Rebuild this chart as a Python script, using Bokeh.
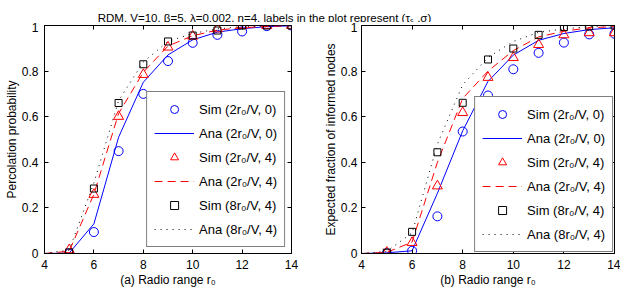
from bokeh.plotting import figure
from bokeh.models import (LinearAxis, Legend, LegendItem, Label, FixedTicker, Range1d,
                          CustomLabelingPolicy)
from bokeh.layouts import column, row
from bokeh.embed import file_html
from bokeh.resources import INLINE

# ---------------- data ----------------
ana_r0 = [4, 5, 6, 7, 8, 9, 10, 11, 12, 13, 14]
sim_r0 = [5, 6, 7, 8, 9, 10, 11, 12, 13, 14]

x_ticks = [4, 6, 8, 10, 12, 14]
y_ticks = [0, 0.2, 0.4, 0.6, 0.8, 1.0]
y_tick_labels = ["0", "0.2", "0.4", "0.6", "0.8", "1"]

legend_labels = ["Sim (2r₀/V, 0)", "Ana (2r₀/V, 0)", "Sim (2r₀/V, 4)",
                 "Ana (2r₀/V, 4)", "Sim (8r₀/V, 4)", "Ana (8r₀/V, 4)"]

# (a) percolation probability
a_sim_2r0_0 = [0.0, 0.094, 0.449, 0.700, 0.844, 0.924, 0.959, 0.974, 0.997, 1.0]
a_ana_2r0_0 = [0.0, 0.002, 0.13, 0.51, 0.751, 0.871, 0.937, 0.971, 0.986, 0.995, 0.999]
a_sim_2r0_4 = [0.016, 0.259, 0.601, 0.785, 0.905, 0.953, 0.985, 1.0, 1.0, 1.0]
a_ana_2r0_4 = [0.0, 0.01, 0.26, 0.614, 0.795, 0.91, 0.955, 0.98, 0.99, 0.996, 0.999]
a_sim_8r0_4 = [0.005, 0.285, 0.66, 0.83, 0.93, 0.956, 0.978, 1.0, 1.0, 1.0]
a_ana_8r0_4 = [0.0, 0.015, 0.31, 0.67, 0.84, 0.93, 0.965, 0.985, 0.995, 0.998, 0.9995]

# (b) expected fraction of informed nodes
b_sim_2r0_0 = [0.001, 0.012, 0.163, 0.535, 0.693, 0.808, 0.880, 0.925, 0.961, 0.964]
b_ana_2r0_0 = [0.0, 0.003, 0.012, 0.264, 0.538, 0.755, 0.87, 0.935, 0.965, 0.982, 0.99]
b_sim_2r0_4 = [0.005, 0.048, 0.296, 0.618, 0.772, 0.859, 0.916, 0.959, 0.968, 0.968]
b_ana_2r0_4 = [0.0, 0.005, 0.05, 0.40, 0.68, 0.80, 0.89, 0.95, 0.975, 0.99, 0.995]
b_sim_8r0_4 = [0.004, 0.095, 0.444, 0.661, 0.851, 0.899, 0.959, 0.993, 0.996, 1.0]
b_ana_8r0_4 = [0.0, 0.01, 0.09, 0.48, 0.74, 0.86, 0.93, 0.97, 0.985, 0.995, 1.0]

title_text = "RDM, V=10, β=5, λ=0.002, η=4, labels in the plot represent (τₛ ,σ)"

FONT = "Liberation Sans"
BLUE = "#0000ff"
RED = "#ff0000"
BLACK = "#000000"


def style_axis(ax, ticks, labels=None, hidden=False, label_standoff=6):
    ax.ticker = FixedTicker(ticks=ticks)
    ax.major_tick_in = 4
    ax.major_tick_out = 0
    ax.minor_tick_line_color = None
    ax.major_tick_line_color = "black"
    if hidden:
        ax.axis_line_color = None
        ax.major_label_text_font_size = "0px"
        ax.major_label_standoff = 0
        ax.major_label_policy = CustomLabelingPolicy(code="return new Set()")
    else:
        ax.axis_line_color = "black"
        ax.major_label_text_font = FONT
        ax.major_label_text_font_size = "12px"
        ax.major_label_text_color = "black"
        ax.major_label_standoff = label_standoff
        ax.axis_label_text_font = FONT
        ax.axis_label_text_font_size = "12px"
        ax.axis_label_text_font_style = "normal"
        ax.axis_label_text_color = "black"
        ax.axis_label_standoff = 1
        if labels is not None:
            ax.major_label_overrides = {t: l for t, l in zip(ticks, labels)}


def panel(width, mbl, mbr, mbb, ylabel, xlabel, series, legend_margin, ystandoff):
    p = figure(width=width, height=272, x_range=Range1d(4, 14), y_range=Range1d(0, 1),
               output_backend="svg", toolbar_location=None,
               min_border_left=mbl, min_border_right=mbr,
               min_border_top=3, min_border_bottom=mbb)
    p.xgrid.visible = False
    p.ygrid.visible = False
    p.outline_line_color = "black"
    p.outline_line_width = 1
    p.background_fill_color = "white"
    p.border_fill_color = "white"

    style_axis(p.xaxis[0], x_ticks, label_standoff=6)
    style_axis(p.yaxis[0], y_ticks, y_tick_labels, label_standoff=ystandoff)
    p.xaxis[0].axis_label = xlabel
    p.yaxis[0].axis_label = ylabel
    p.yaxis[0].axis_label_standoff = 0

    top = LinearAxis()
    style_axis(top, x_ticks, hidden=True)
    p.add_layout(top, "above")
    right = LinearAxis()
    style_axis(right, y_ticks, hidden=True)
    p.add_layout(right, "right")

    s1, a1, s2, a2, s3, a3 = series
    r1 = p.scatter(sim_r0, s1, marker="circle", size=9, fill_color=None,
                   line_color=BLUE, line_width=1)
    r2 = p.line(ana_r0, a1, line_color=BLUE, line_width=1)
    r3 = p.scatter(sim_r0, s2, marker="triangle", size=10, fill_color=None,
                   line_color=RED, line_width=1)
    r4 = p.line(ana_r0, a2, line_color=RED, line_width=1, line_dash="8 5")
    r5 = p.scatter(sim_r0, s3, marker="square", size=7, fill_color=None,
                   line_color=BLACK, line_width=1)
    r6 = p.line(ana_r0, a3, line_color=BLACK, line_width=1, line_dash="1 5")

    items = [LegendItem(label=lab, renderers=[r])
             for lab, r in zip(legend_labels, [r1, r2, r3, r4, r5, r6])]
    leg = Legend(items=items, location="bottom_right")
    leg.margin = legend_margin
    leg.border_line_color = "black"
    leg.border_line_width = 1.5
    leg.background_fill_color = "white"
    leg.background_fill_alpha = 1
    leg.label_text_font = FONT
    leg.label_text_font_size = "13px"
    leg.label_text_color = "black"
    leg.glyph_width = 40
    leg.glyph_height = 20
    leg.label_height = 20
    leg.spacing = 4
    leg.padding = 7
    leg.label_standoff = 5
    p.add_layout(leg)
    return p


p1 = panel(320, 44, 29, 41, "Percolation probability", "(a) Radio range r₀",
           [a_sim_2r0_0, a_ana_2r0_0, a_sim_2r0_4, a_ana_2r0_4, a_sim_8r0_4, a_ana_8r0_4],
           6, 6)
p2 = panel(300, 36, 6, 38, "Expected fraction of informed nodes", "(b) Radio range r₀",
           [b_sim_2r0_0, b_ana_2r0_0, b_sim_2r0_4, b_ana_2r0_4, b_sim_8r0_4, b_ana_8r0_4],
           1, 4)

t = figure(width=620, height=22, x_range=Range1d(0, 620), y_range=Range1d(0, 22),
           output_backend="svg", toolbar_location=None,
           x_axis_location=None, y_axis_location=None, min_border=0)
t.grid.visible = False
t.outline_line_color = None
t.add_layout(Label(x=264, y=5, text=title_text, text_align="center",
                   text_baseline="alphabetic", text_font=FONT, text_font_size="11.5px",
                   text_color="black"))

panels = row(p2, p1, styles={"flex-direction": "row-reverse"})
layout = column(t, panels)
open("out.html", "w").write(file_html(layout, INLINE))
